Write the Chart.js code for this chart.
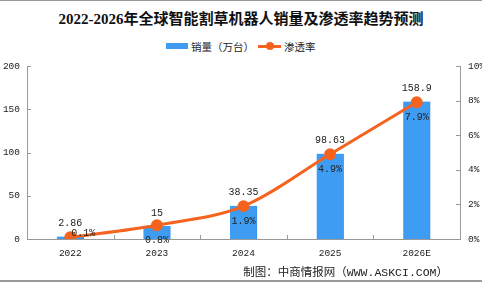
<!DOCTYPE html>
<html>
<head>
<meta charset="utf-8">
<script src="https://cdn.jsdelivr.net/npm/chart.js@4"></script>
<style>
  html, body { margin: 0; padding: 0; }
  body { width: 482px; height: 284px; position: relative; background: #fff; overflow: hidden; font-family: "Noto Sans CJK SC", sans-serif; }
  .frame { position: absolute; left: 0; top: 0; width: 482px; height: 282px; border-top: 1px solid #999; border-bottom: 2px solid #999; box-sizing: border-box; }
  #title { position: absolute; left: 0; width: 482px; top: 7px; text-align: center; font: bold 15px "Liberation Serif", "Noto Sans CJK SC", serif; color: #111; }
  #legend { position: absolute; top: 37px; left: 166px; font-size: 10.5px; color: #222; white-space: nowrap; }
  #legend span { display: inline-block; vertical-align: middle; }
  .box { width: 22px; height: 6px; background: #3f9cf3; margin-right: 3px; }
  .ln { width: 23px; height: 3px; background: #f5631e; position: relative; margin: 0 3px 0 4px; }
  .ln::after { content: ""; position: absolute; left: 8px; top: -2.5px; width: 8px; height: 8px; border-radius: 50%; background: #f5631e; }
  #src { position: absolute; right: 34px; top: 263px; font: 11.5px "Liberation Mono", "Noto Sans CJK SC", monospace; color: #222; }
  canvas { position: absolute; left: 0; top: 0; }
</style>
</head>
<body>
<div class="frame"></div>
<div id="title">2022-2026年全球智能割草机器人销量及渗透率趋势预测</div>
<div id="legend"><span class="box"></span><span>销量（万台）</span><span class="ln"></span><span>渗透率</span></div>
<canvas id="chart" width="482" height="284"></canvas>
<div id="src">制图：中商情报网（WWW.ASKCI.COM）</div>
<script>
const years = ["2022", "2023", "2024", "2025", "2026E"];
const sales = [2.86, 15, 38.35, 98.63, 158.9];
const salesLabels = ["2.86", "15", "38.35", "98.63", "158.9"];
const rate = [0.1, 0.8, 1.9, 4.9, 7.9];
const rateLabels = ["0.1%", "0.8%", "1.9%", "4.9%", "7.9%"];

const monoFont = "'Liberation Mono', 'DejaVu Sans Mono', monospace";

// little inward tick marks + value labels
const extras = {
    id: "extras",
    afterDatasetsDraw(chart) {
        const ctx = chart.ctx;
        const area = chart.chartArea;
        const y = chart.scales.y, y1 = chart.scales.y1, x = chart.scales.x;
        ctx.save();
        ctx.strokeStyle = "#999";
        ctx.lineWidth = 1;
        ctx.beginPath();
        y.ticks.forEach(t => {
            const py = Math.round(y.getPixelForValue(t.value)) + 0.5;
            ctx.moveTo(area.left, py); ctx.lineTo(area.left + 4, py);
        });
        y1.ticks.forEach(t => {
            const py = Math.round(y1.getPixelForValue(t.value)) + 0.5;
            ctx.moveTo(area.right, py); ctx.lineTo(area.right - 4, py);
        });
        for (let i = 1; i < years.length; i++) {
            const px = Math.round((x.getPixelForValue(i - 1) + x.getPixelForValue(i)) / 2) + 0.5;
            ctx.moveTo(px, area.bottom); ctx.lineTo(px, area.bottom - 4);
        }
        ctx.stroke();

        ctx.fillStyle = "#222";
        ctx.font = "10px " + monoFont;
        ctx.textAlign = "center";
        ctx.textBaseline = "middle";
        const bars = chart.getDatasetMeta(0).data;
        bars.forEach((b, i) => ctx.fillText(salesLabels[i], b.x, b.y - 13));
        const pts = chart.getDatasetMeta(1).data;
        pts.forEach((p, i) => {
            let lx = p.x, ly = p.y + 15;
            if (ly > area.bottom + 8) { lx = p.x + 13; ly = p.y - 4; }
            ctx.fillText(rateLabels[i], lx, ly);
        });
        ctx.restore();
    }
};

const tickFont = { family: monoFont, size: 9.5 };

new Chart(document.getElementById("chart"), {
    type: "bar",
    data: {
        labels: years,
        datasets: [
            {
                type: "bar", label: "销量（万台）", data: sales, yAxisID: "y",
                backgroundColor: "#3f9cf3", borderColor: "#3a8fe0",
                borderWidth: { right: 1 }, barThickness: 27, order: 2
            },
            {
                type: "line", label: "渗透率", data: rate, yAxisID: "y1",
                borderColor: "#f5631e", backgroundColor: "#f5631e", borderWidth: 3,
                pointRadius: 4.5, pointHoverRadius: 4.5, cubicInterpolationMode: "monotone", order: 1
            }
        ]
    },
    options: {
        responsive: false,
        animation: false,
        layout: { padding: { top: 66, left: 0, right: 0, bottom: 0 } },
        plugins: { legend: { display: false }, tooltip: { enabled: false } },
        scales: {
            x: {
                grid: { display: false, drawTicks: false },
                border: { color: "#999" },
                ticks: { color: "#222", font: tickFont, padding: 9 },
                afterFit: s => { s.height = 45; }
            },
            y: {
                position: "left", min: 0, max: 200,
                grid: { display: false, drawTicks: false },
                border: { color: "#999" },
                ticks: { stepSize: 50, color: "#222", font: tickFont, padding: 7 },
                afterFit: s => { s.width = 27; }
            },
            y1: {
                position: "right", min: 0, max: 10,
                grid: { display: false, drawTicks: false },
                border: { color: "#999" },
                ticks: { stepSize: 2, color: "#222", font: tickFont, padding: 8,
                         callback: v => v + "%" },
                afterFit: s => { s.width = 22; }
            }
        }
    },
    plugins: [extras]
});
</script>
</body>
</html>
